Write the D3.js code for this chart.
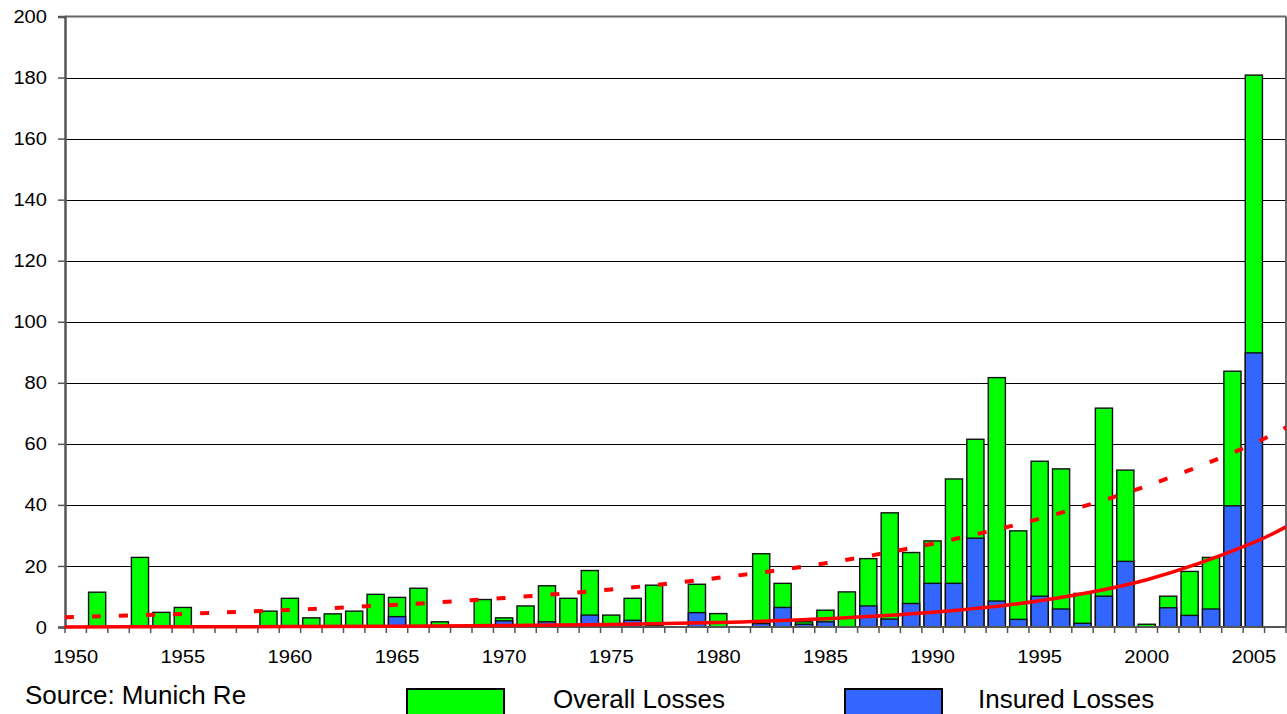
<!DOCTYPE html>
<html>
<head>
<meta charset="utf-8">
<script src="https://cdn.jsdelivr.net/npm/d3@7"></script>
<style>
  html, body { margin: 0; padding: 0; background: #fff; }
  svg { display: block; font-family: "Liberation Sans", Arial, sans-serif; }
</style>
</head>
<body>
<svg id="chart" width="1287" height="714"></svg>
<script>
// ---- data ----
const years = d3.range(1950, 2007);
const overallLosses = [
  0, 11.4, 0, 22.8, 4.8, 6.4, 0, 0, 0, 5.2,
  9.4, 3.0, 4.3, 5.2, 10.7, 9.7, 12.7, 1.7, 0, 9.0,
  3.0, 6.9, 13.5, 9.4, 18.5, 3.9, 9.4, 13.7, 0, 14.0,
  4.4, 0, 24.0, 14.3, 1.7, 5.5, 11.5, 22.4, 37.4, 24.4,
  28.2, 48.5, 61.5, 81.7, 31.5, 54.3, 51.8, 11.0, 71.7, 51.4,
  0.9, 10.1, 18.2, 22.8, 83.8, 180.8, 0
];
const insuredLosses = [
  0, 0, 0, 0, 0, 0, 0, 0, 0, 0,
  0, 0, 0, 0, 0, 3.4, 0, 0, 0, 0.5,
  2.0, 0, 1.7, 0, 3.9, 0, 2.2, 0.4, 0, 4.7,
  0, 0, 1.1, 6.4, 0.9, 1.7, 0, 6.9, 2.6, 7.7,
  14.3, 14.3, 29.1, 8.5, 2.5, 10.1, 5.9, 1.2, 10.1, 21.5,
  0, 6.3, 3.8, 5.9, 39.7, 89.8, 0
];
// trend lines (at these x positions, in years)
const trendYears    = [1949.5, 1955, 1960, 1965, 1970, 1975, 1980, 1985, 1990, 1995, 2000, 2005, 2006.5];
const overallTrend  = [3.2, 4.3, 5.6, 7.3, 9.5, 12.3, 16.1, 20.9, 27.3, 35.5, 46.2, 60.1, 65.4];
const insuredTrend  = [0.04, 0.08, 0.14, 0.26, 0.46, 0.83, 1.49, 2.68, 4.8, 8.6, 15.5, 27.7, 32.8];
const yTicks = [0, 20, 40, 60, 80, 100, 120, 140, 160, 180, 200];
const xLabelYears = [1950, 1955, 1960, 1965, 1970, 1975, 1980, 1985, 1990, 1995, 2000, 2005];
const legendLabels = ["Overall Losses", "Insured Losses"];
const sourceText = "Source: Munich Re";

// ---- layout ----
const L = 65, R = 1286, T = 16.5, B = 627;
const svg = d3.select("#chart");

const x = d3.scaleBand().domain(years).range([L, R]).paddingInner(0.2).paddingOuter(0.1);
const step = x.step();
const xc = d3.scaleLinear().domain([1949.5, 2006.5]).range([L, R]);
const y = d3.scaleLinear().domain([0, 200]).range([B, T]);

// gridlines
svg.append("g").selectAll("line").data(yTicks.filter(d => d > 0 && d < 200)).join("line")
  .attr("x1", L).attr("x2", R)
  .attr("y1", d => Math.round(y(d)) + 0.5).attr("y2", d => Math.round(y(d)) + 0.5)
  .attr("stroke", "#000").attr("stroke-width", 1);

// bars
const data = years.map((yr, i) => ({ yr, overall: overallLosses[i], insured: insuredLosses[i] }));
const barG = svg.append("g");
barG.selectAll("rect.ov").data(data.filter(d => d.overall > 0)).join("rect")
  .attr("class", "ov")
  .attr("x", d => x(d.yr)).attr("width", x.bandwidth())
  .attr("y", d => y(d.overall)).attr("height", d => y(0) - y(d.overall))
  .attr("fill", "#00ff00").attr("stroke", "#111").attr("stroke-width", 1.4);
barG.selectAll("rect.in").data(data.filter(d => d.insured > 0)).join("rect")
  .attr("class", "in")
  .attr("x", d => x(d.yr)).attr("width", x.bandwidth())
  .attr("y", d => y(d.insured)).attr("height", d => y(0) - y(d.insured))
  .attr("fill", "#3366ff").attr("stroke", "#111").attr("stroke-width", 1.4);

// plot border (top, right) and axes
svg.append("line").attr("x1", L).attr("x2", R).attr("y1", T).attr("y2", T)
  .attr("stroke", "#666").attr("stroke-width", 2);
svg.append("line").attr("x1", R).attr("x2", R).attr("y1", T).attr("y2", B)
  .attr("stroke", "#666").attr("stroke-width", 2);

// y axis
const yAxis = d3.axisLeft(y).tickValues(yTicks).tickSize(7).tickPadding(11);
const yg = svg.append("g").attr("transform", `translate(${L},0)`).call(yAxis);
yg.select(".domain").attr("stroke", "#555").attr("stroke-width", 2.5);
yg.selectAll(".tick line").attr("stroke", "#555").attr("stroke-width", 1.5);
yg.selectAll(".tick text")
  .attr("font-size", 19).attr("fill", "#000")
  .attr("font-family", "Liberation Sans, Arial, sans-serif")
  .each(function() {
    const t = d3.select(this);
    const xx = +t.attr("x");
    t.attr("x", null).attr("transform", `translate(${xx},0) scale(1.06,1)`);
  });

// x axis: baseline, boundary ticks, labels
svg.append("line").attr("x1", L).attr("x2", R).attr("y1", B).attr("y2", B)
  .attr("stroke", "#555").attr("stroke-width", 2);
const boundaries = years.map(yr => x(yr) - step * 0.1).concat([R]);
svg.append("g").selectAll("line").data(boundaries).join("line")
  .attr("x1", d => d).attr("x2", d => d).attr("y1", B).attr("y2", B + 6)
  .attr("stroke", "#555").attr("stroke-width", 1.5);
const xAxis = d3.axisBottom(x).tickValues(xLabelYears).tickSize(0).tickPadding(0);
const xg = svg.append("g").attr("transform", `translate(0,${B})`).call(xAxis);
xg.select(".domain").remove();
xg.selectAll(".tick text")
  .attr("font-size", 19).attr("fill", "#000")
  .attr("font-family", "Liberation Sans, Arial, sans-serif")
  .attr("dy", null).attr("y", null)
  .attr("transform", "translate(0,36) scale(1.06,1)");

// trend lines
const line = d3.line().x(d => xc(d[0])).y(d => y(d[1])).curve(d3.curveCatmullRom.alpha(0.5));
svg.append("path").datum(trendYears.map((t, i) => [t, overallTrend[i]]))
  .attr("d", line).attr("fill", "none").attr("stroke", "#ff0000")
  .attr("stroke-width", 4).attr("stroke-dasharray", "9,18");
svg.append("path").datum(trendYears.map((t, i) => [t, insuredTrend[i]]))
  .attr("d", line).attr("fill", "none").attr("stroke", "#ff0000")
  .attr("stroke-width", 3.5);

// source + legend
svg.append("text").attr("x", 25).attr("y", 704).attr("font-size", 26)
  .attr("fill", "#000").text(sourceText);
const legendColors = ["#00ff00", "#3366ff"];
const legendBoxX = [407, 845];
const legendTextX = [553, 978];
legendLabels.forEach((lab, i) => {
  svg.append("rect").attr("x", legendBoxX[i]).attr("y", 689).attr("width", 97).attr("height", 30)
    .attr("fill", legendColors[i]).attr("stroke", "#000").attr("stroke-width", 2);
  svg.append("text").attr("x", legendTextX[i]).attr("y", 708).attr("font-size", 26)
    .attr("fill", "#000").text(lab);
});
</script>
</body>
</html>
